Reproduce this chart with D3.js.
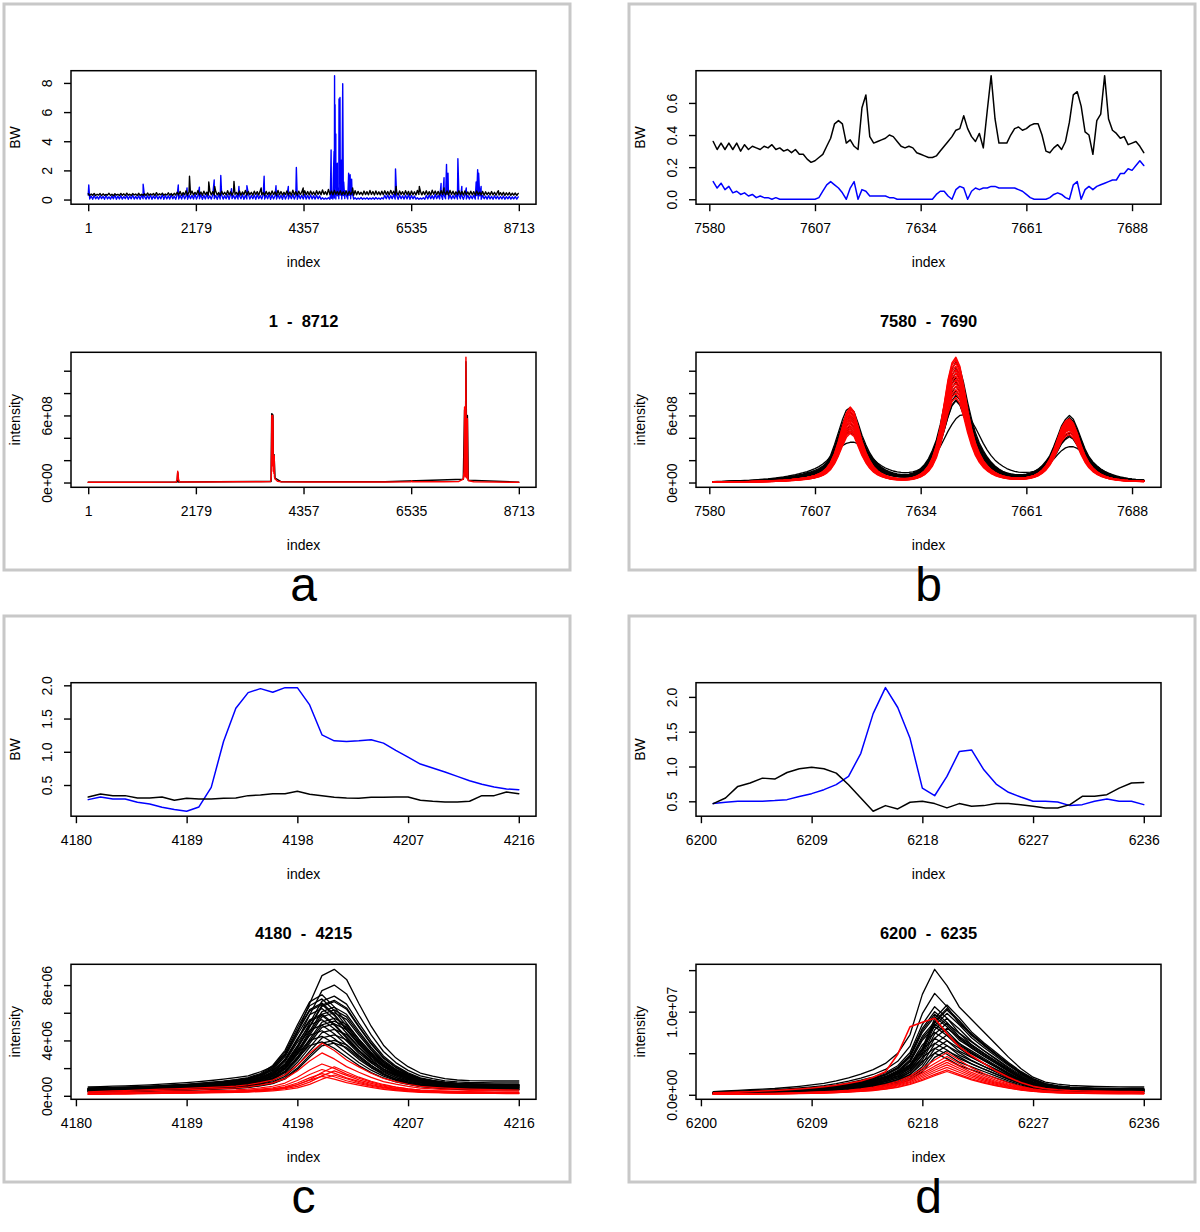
<!DOCTYPE html>
<html>
<head>
<meta charset="utf-8">
<script src="https://cdn.jsdelivr.net/npm/d3@7"></script>
<style>
  body { margin: 0; background: #fff; }
</style>
</head>
<body>
<svg id="fig" width="1200" height="1232"></svg>
<script>
// ---------- data ----------
// panel a : whole range 1 - 8712, BW sampled every 30 index units + spikes
var aRange = [1, 8712];
var aXTicks = [1, 2179, 4357, 6535, 8713];
var aBwStep = 30;
var aBlackBase = [
  0.40,0.27,0.38,0.30,0.42,0.28,0.36,0.31,0.41,0.27,0.39,0.29,0.35,0.30,0.43,0.28,0.37,0.26,0.40,0.31,
  0.36,0.28,0.42,0.29,0.39,0.27,0.44,0.30,0.37,0.28,0.41,0.31,0.38,0.27,0.43,0.29,0.36,0.30,0.40,0.28,
  0.45,0.29,0.39,0.31,0.42,0.28,0.47,0.30,0.40,0.32,0.44,0.29,0.38,0.31,0.46,0.30,0.41,0.28,0.43,0.31,
  0.50,0.31,0.56,0.29,0.48,0.33,0.60,0.30,0.53,0.34,0.58,0.31,0.49,0.35,0.62,0.32,0.52,0.29,0.57,0.34,
  0.51,0.30,0.59,0.33,0.54,0.31,0.55,0.32,0.48,0.30,0.57,0.34,0.50,0.31,0.61,0.33,0.53,0.30,0.56,0.35,
  0.49,0.32,0.58,0.30,0.52,0.34,0.63,0.31,0.55,0.33,0.50,0.30,0.57,0.35,0.54,0.31,0.60,0.32,0.48,0.30,
  0.56,0.33,0.51,0.31,0.59,0.34,0.53,0.30,0.62,0.33,0.55,0.31,0.50,0.34,0.58,0.32,0.52,0.30,0.64,0.33,
  0.54,0.31,0.57,0.35,0.51,0.30,0.60,0.33,0.55,0.32,
  0.58,0.34,0.52,0.31,0.61,0.35,0.56,0.33,0.66,0.36,0.54,0.32,0.70,0.35,0.58,0.33,0.63,0.37,0.55,0.34,
  0.60,0.32,0.53,0.35,0.59,0.31,0.57,0.34,0.52,0.30,0.61,0.33,0.56,0.35,0.50,0.31,0.58,0.34,0.54,0.32,
  0.62,0.35,0.55,0.31,0.59,0.34,0.53,0.32,0.57,0.33,
  0.60,0.34,0.55,0.32,0.63,0.36,0.57,0.33,0.52,0.31,0.59,0.35,0.54,0.32,0.61,0.34,0.56,0.30,0.58,0.33,
  0.53,0.31,0.62,0.35,0.57,0.32,0.55,0.34,0.60,0.33,0.54,0.31,0.64,0.36,0.58,0.33,0.56,0.32,0.61,0.35,
  0.55,0.33,0.59,0.31,0.62,0.34,0.57,0.32,0.53,0.35,0.60,0.33,0.56,0.31,0.58,0.34,0.52,0.32,0.57,0.33,
  0.54,0.31,0.59,0.34,0.51,0.32,0.56,0.30,0.53,0.33,0.49,0.31,0.55,0.32,0.50,0.30,0.52,0.31,0.47,0.30,
  0.50,0.29,0.46,0.31,0.48,0.29,0.44,0.30,0.45,0.28,0.42
];
var aBlueBase = [
  0.30,0.04,0.24,0.02,0.28,0.05,0.20,0.03,0.26,0.06,0.22,0.02,0.29,0.04,0.19,0.03,0.25,0.05,0.31,0.02,
  0.23,0.04,0.27,0.03,0.21,0.06,0.28,0.02,0.24,0.05,0.30,0.03,0.22,0.04,0.26,0.02,0.29,0.05,0.20,0.03,
  0.27,0.04,0.32,0.02,0.25,0.06,0.29,0.03,0.23,0.05,0.34,0.02,0.28,0.04,0.26,0.03,0.31,0.05,0.24,0.02,
  0.33,0.04,0.28,0.03,0.36,0.05,0.25,0.02,0.31,0.06,0.29,0.03,0.37,0.04,0.27,0.05,0.34,0.02,0.30,0.04,
  0.38,0.06,0.26,0.03,0.32,0.05,0.28,0.02,0.35,0.04,0.30,0.03,0.27,0.05,0.33,0.02,0.36,0.06,0.29,0.04,
  0.31,0.03,0.26,0.05,0.34,0.02,0.30,0.04,0.37,0.03,0.28,0.05,0.32,0.02,0.35,0.06,0.27,0.04,0.33,0.03,
  0.29,0.05,0.36,0.02,0.31,0.04,0.26,0.03,0.34,0.05,0.30,0.02,0.38,0.04,0.28,0.03,0.32,0.06,0.35,0.04,
  0.27,0.02,0.33,0.05,0.30,0.03,0.36,0.04,0.29,0.03,
  0.32,0.04,0.27,0.03,0.30,0.05,0.25,0.02,0.12,0.02,0.10,0.03,0.13,0.02,0.09,0.03,0.11,0.04,0.26,0.05,
  0.30,0.03,0.28,0.06,0.33,0.04,0.29,0.05,0.31,0.03,0.12,0.02,0.10,0.03,0.14,0.02,0.11,0.03,0.13,0.02,
  0.10,0.03,0.12,0.02,0.14,0.03,0.11,0.02,0.13,0.03,
  0.28,0.05,0.32,0.03,0.27,0.06,0.34,0.04,0.29,0.02,0.31,0.05,0.26,0.03,0.30,0.04,0.33,0.02,0.28,0.05,
  0.24,0.03,0.12,0.02,0.10,0.03,0.13,0.02,0.28,0.04,0.31,0.05,0.27,0.03,0.35,0.06,0.30,0.04,0.33,0.02,
  0.29,0.05,0.36,0.03,0.31,0.04,0.28,0.06,0.34,0.03,0.30,0.05,0.27,0.02,0.32,0.04,0.29,0.03,0.26,0.05,
  0.31,0.03,0.28,0.04,0.25,0.02,0.29,0.05,0.24,0.03,0.27,0.04,0.22,0.02,0.26,0.05,0.23,0.03,0.21,0.04,
  0.24,0.02,0.20,0.05,0.22,0.03,0.19,0.04,0.21,0.03,0.18
];
var aBlueSpikes = [
  [12,1.0],[1112,1.05],[1823,1.0],[2000,0.8],[2250,0.85],[2550,1.35],[2683,1.65],
  [2900,0.75],[3050,0.9],[3211,0.95],[3560,1.6],[3800,0.95],[4050,0.9],[4212,2.2],
  [4900,0.3],[4915,3.4],[4930,0.5],[4960,1.5],[4975,3.3],[4985,8.5],[4990,1.0],
  [4995,6.5],[5002,0.8],[5010,4.5],[5020,1.5],[5040,2.5],[5060,0.8],[5075,6.9],
  [5085,2.7],[5095,7.0],[5105,0.5],[5120,2.7],[5135,1.0],[5150,7.95],[5160,2.0],
  [5170,1.2],[5200,0.6],[5270,1.8],[5285,0.5],[5300,1.7],[5315,0.8],[5330,1.4],
  [5345,0.5],[6218,2.1],[7140,1.1],[7200,1.5],[7250,2.4],[7280,1.8],[7480,2.8],
  [7560,0.9],[7650,0.8],[7850,1.2],[7880,2.05],[7900,1.8],[7950,0.9]
];
var aBlackSpikes = [
  [2050,1.6],[2440,1.2],[2560,0.9],[2950,1.25],[3500,0.8],[4350,0.8],
  [5350,0.8],[6230,0.9],[6700,0.9],[7200,0.8],[8300,0.6]
];
// intensity, units of 1e8
var aIntBlack = [
  [1,0.03],[1800,0.04],[1812,0.9],[1830,0.04],[3700,0.1],[3714,6.15],[3722,6.1],
  [3730,6.1],[3738,6.0],[3745,2.5],[3760,2.5],[3780,0.4],[3900,0.08],[6000,0.06],
  [7590,0.3],[7616,6.5],[7630,0.8],[7643,10.8],[7660,0.8],[7672,6.0],[7690,0.2],[8712,0.03]
];
var aIntRed = [
  [1,0.02],[600,0.03],[1200,0.02],[1780,0.04],[1800,0.3],[1812,1.0],[1820,0.7],
  [1828,0.25],[1850,0.05],[2400,0.05],[3000,0.07],[3500,0.08],[3690,0.1],[3705,0.6],
  [3712,3.5],[3716,6.0],[3720,2.0],[3724,5.9],[3728,1.5],[3732,6.0],[3736,2.2],
  [3740,5.7],[3745,1.0],[3752,2.4],[3758,0.8],[3764,2.4],[3770,0.5],[3785,0.3],
  [3800,0.25],[3830,0.12],[3900,0.07],[4400,0.05],[5200,0.04],[6000,0.05],[6530,0.07],
  [6545,0.15],[6560,0.06],[7200,0.06],[7500,0.1],[7590,0.3],[7605,1.0],[7612,3.5],
  [7616,6.75],[7620,3.0],[7628,0.5],[7636,2.0],[7640,7.0],[7643,11.2],[7646,6.5],
  [7652,1.2],[7660,0.4],[7666,1.5],[7670,4.9],[7672,5.7],[7676,2.4],[7684,0.3],
  [7700,0.15],[7800,0.06],[8200,0.04],[8712,0.02]
];
var aYTicks = [0, 2, 4, 6, 8];
var aYLabels = ["0", "2", "4", "6", "8"];
var abIntTicks = [0, 2, 4, 6, 8, 10];          // x 1e8
var abIntLabels = ["0e+00", "", "", "6e+08", "", ""];

// panel b : 7581 - 7691
var bStart = 7581;
var bXTicks = [7580, 7607, 7634, 7661, 7688];
var bBlackBw = [
  0.36,0.31,0.35,0.31,0.35,0.31,0.35,0.30,0.34,0.31,
  0.33,0.32,0.31,0.33,0.32,0.34,0.31,0.32,0.30,0.31,
  0.29,0.31,0.28,0.28,0.25,0.23,0.24,0.26,0.28,0.33,
  0.38,0.47,0.49,0.47,0.35,0.37,0.33,0.31,0.57,0.65,
  0.39,0.35,0.36,0.37,0.38,0.40,0.39,0.36,0.33,0.32,
  0.33,0.32,0.29,0.28,0.27,0.26,0.26,0.27,0.30,0.33,
  0.36,0.39,0.43,0.44,0.52,0.44,0.39,0.36,0.41,0.32,
  0.55,0.77,0.50,0.35,0.35,0.35,0.40,0.44,0.45,0.43,
  0.44,0.46,0.47,0.47,0.40,0.30,0.29,0.32,0.34,0.31,
  0.36,0.48,0.65,0.67,0.58,0.42,0.40,0.28,0.49,0.53,
  0.77,0.50,0.43,0.41,0.38,0.39,0.34,0.35,0.36,0.33,0.29
];
var bBlueBw = [
  0.11,0.07,0.10,0.06,0.08,0.04,0.05,0.03,0.04,0.02,
  0.03,0.01,0.02,0.01,0.01,0.00,0.01,0.00,0.00,0.00,
  0.00,0.00,0.00,0.00,0.00,
  0.00,0.00,0.01,0.05,0.09,0.11,0.09,0.07,0.04,0.00,
  0.07,0.11,0.00,0.06,0.05,0.02,0.02,0.02,0.02,0.02,
  0.01,0.01,0.00,0.00,0.00,0.00,0.00,0.00,0.00,0.00,
  0.00,0.00,0.03,0.05,0.05,0.02,0.00,0.06,0.08,0.07,0.00,0.05,0.07,0.06,0.07,
  0.07,0.08,0.08,0.07,0.07,0.07,0.07,0.07,0.06,0.05,
  0.03,0.01,0.00,0.00,0.00,0.00,0.01,0.03,0.04,0.03,
  0.01,0.00,0.09,0.11,0.00,0.06,0.08,0.06,0.08,0.09,
  0.10,0.11,0.12,0.12,0.16,0.16,0.19,0.18,0.21,0.24,0.21
];
var bYTicks = [0, 0.2, 0.4, 0.6];
var bYLabels = ["0.0", "0.2", "0.4", "0.6"];
// intensity profiles (x 1e8) and the peak heights of each drawn trace
var bPeakIdx = [7616, 7643, 7672];
var bBlackRef = [
  0.05,0.06,0.07,0.08,0.09,0.10,0.11,0.12,0.13,0.14,
  0.16,0.18,0.20,0.22,0.24,0.27,0.30,0.33,0.37,0.41,
  0.46,0.51,0.57,0.64,0.72,0.80,0.90,1.02,1.20,1.50,
  2.0,2.8,3.7,4.6,5.3,5.5,5.2,4.4,3.5,2.8,
  2.2,1.75,1.4,1.15,0.95,0.82,0.72,0.66,0.62,0.61,
  0.64,0.72,0.86,1.08,1.4,1.85,2.5,3.3,4.5,6.0,
  7.6,8.9,9.5,9.0,7.8,6.3,5.0,3.9,3.1,2.5,
  2.0,1.6,1.3,1.05,0.88,0.76,0.68,0.63,0.61,0.62,
  0.66,0.74,0.86,1.04,1.3,1.65,2.1,2.8,3.6,4.4,
  4.9,5.2,4.9,4.2,3.4,2.6,2.0,1.6,1.3,1.05,
  0.85,0.7,0.58,0.48,0.40,0.34,0.29,0.25,0.22,0.20,0.18
];
var bBlackRefPeaks = [5.5, 9.5, 5.2];
var bBlackBroad = [
  0.08,0.09,0.10,0.11,0.12,0.13,0.14,0.16,0.18,0.20,
  0.22,0.24,0.27,0.30,0.33,0.37,0.41,0.46,0.51,0.57,
  0.64,0.71,0.79,0.88,0.98,1.10,1.24,1.42,1.65,1.95,
  2.3,2.65,3.0,3.3,3.5,3.6,3.6,3.45,3.2,2.85,
  2.45,2.05,1.75,1.5,1.3,1.15,1.03,0.95,0.9,0.88,
  0.9,0.96,1.06,1.2,1.4,1.7,2.1,2.6,3.2,3.9,
  4.6,5.2,5.7,6.0,6.06,5.9,5.5,4.9,4.2,3.5,
  2.9,2.4,2.0,1.7,1.45,1.25,1.1,1.0,0.93,0.9,
  0.9,0.93,1.0,1.1,1.25,1.45,1.75,2.1,2.5,2.85,
  3.1,3.2,3.2,3.05,2.8,2.45,2.1,1.75,1.45,1.2,
  1.0,0.84,0.7,0.6,0.51,0.44,0.38,0.33,0.29,0.26,0.23
];
var bRedRef = [
  0.03,0.035,0.04,0.045,0.05,0.055,0.06,0.065,0.07,0.08,
  0.09,0.10,0.11,0.12,0.13,0.15,0.17,0.19,0.21,0.24,
  0.27,0.31,0.35,0.40,0.46,0.54,0.64,0.78,0.98,1.3,
  1.8,2.6,3.7,5.0,6.2,6.75,6.3,5.0,3.7,2.7,
  1.95,1.4,1.05,0.8,0.63,0.5,0.42,0.37,0.35,0.35,
  0.38,0.45,0.57,0.76,1.05,1.5,2.2,3.3,4.9,7.0,
  9.2,10.7,11.2,10.4,8.6,6.5,4.8,3.5,2.6,1.95,
  1.5,1.15,0.9,0.72,0.59,0.5,0.44,0.41,0.40,0.41,
  0.45,0.52,0.64,0.82,1.1,1.5,2.1,2.9,3.9,4.9,
  5.5,5.7,5.3,4.4,3.3,2.4,1.75,1.3,0.98,0.75,
  0.58,0.46,0.37,0.30,0.25,0.21,0.18,0.16,0.14,0.13,0.12
];
var bRedRefPeaks = [6.75, 11.2, 5.7];
var bBlackHeights = [
  [6.7,10.8,6.0],[6.3,10.2,5.8],[6.0,9.8,5.6],[5.8,9.4,5.4],[5.6,9.0,5.2],
  [5.3,8.6,5.0],[5.0,8.2,4.8],[4.8,7.8,4.5],[4.6,7.4,4.2],[4.5,7.3,4.1]
];
var bRedHeights = [
  [6.75,11.2,5.7],[6.6,11.0,5.6],[6.4,10.7,5.5],[6.2,10.4,5.4],[6.0,10.1,5.3],
  [5.8,9.8,5.2],[5.6,9.5,5.1],[5.4,9.2,5.0],[5.2,8.9,4.9],[5.0,8.6,4.8],
  [4.8,8.3,4.7],[4.6,8.0,4.5],[4.4,7.6,4.3]
];

// panel c : 4181 - 4216
var cStart = 4181;
var cXTicks = [4180, 4189, 4198, 4207, 4216];
var cBlackBw = [
  0.32,0.365,0.34,0.34,0.305,0.305,0.32,0.27,0.30,0.29,
  0.29,0.30,0.305,0.34,0.35,0.37,0.37,0.405,0.36,0.34,
  0.315,0.305,0.30,0.315,0.315,0.32,0.32,0.27,0.255,0.245,
  0.245,0.255,0.34,0.34,0.395,0.37
];
var cBlueBw = [
  0.28,0.32,0.29,0.29,0.24,0.215,0.165,0.13,
  0.105,0.17,0.465,1.155,1.655,1.89,1.95,1.895,1.965,1.965,
  1.705,1.255,1.165,1.155,1.165,1.18,1.13,1.02,0.92,0.815,
  0.755,0.695,0.63,0.565,0.51,0.47,0.44,0.43
];
var cYTicks = [0.5, 1.0, 1.5, 2.0];
var cYLabels = ["0.5", "1.0", "1.5", "2.0"];
// normalised intensity profiles and peak heights (x 1e6)
var cBlackShapeA = [
  0.071,0.073,0.076,0.079,0.083,0.087,0.092,0.098,0.104,0.112,
  0.121,0.131,0.143,0.157,0.19,0.23,0.32,0.50,0.73,0.95,
  1.0,0.92,0.73,0.55,0.40,0.30,0.23,0.18,0.155,0.135,
  0.125,0.12,0.118,0.117,0.117,0.117
];
var cBlackShapeB = [
  0.075,0.078,0.081,0.085,0.089,0.094,0.1,0.107,0.114,0.123,
  0.133,0.145,0.16,0.18,0.22,0.30,0.45,0.70,0.93,1.0,
  0.88,0.72,0.56,0.43,0.33,0.26,0.21,0.17,0.15,0.135,
  0.125,0.12,0.115,0.112,0.11,0.11
];
var cRedShapeA = [
  0.077,0.085,0.093,0.10,0.11,0.118,0.126,0.134,0.14,0.15,
  0.16,0.17,0.185,0.21,0.25,0.30,0.40,0.58,0.81,1.0,
  0.86,0.68,0.55,0.43,0.33,0.27,0.22,0.18,0.16,0.145,
  0.135,0.128,0.122,0.118,0.114,0.11
];
var cRedShapeB = [
  0.075,0.08,0.087,0.094,0.10,0.108,0.115,0.122,0.13,0.138,
  0.146,0.155,0.165,0.18,0.205,0.24,0.29,0.38,0.55,0.8,
  1.0,0.82,0.64,0.5,0.39,0.3,0.24,0.2,0.17,0.15,
  0.138,0.13,0.124,0.12,0.116,0.113
];
var cBlackHeightsA = [9.14, 8.0, 7.2, 6.8, 6.4, 6.0, 5.6, 5.2, 4.8, 4.4, 4.0, 3.8, 6.9, 6.2, 5.4];
var cBlackHeightsB = [7.3, 7.0, 6.6, 6.3, 5.9, 5.5, 5.1, 4.7, 4.3, 3.9, 6.7, 5.8];
var cRedHeightsA = [3.8, 3.1, 2.3, 1.9, 1.6, 1.4];
var cRedHeightsB = [2.1, 1.8, 1.5];
var cIntTicks = [0, 2, 4, 6, 8];            // x 1e6
var cIntLabels = ["0e+00", "", "4e+06", "", "8e+06"];

// panel d : 6201 - 6236
var dStart = 6201;
var dXTicks = [6200, 6209, 6218, 6227, 6236];
var dBlackBw = [
  0.467,0.548,0.714,0.762,0.833,0.819,0.914,0.967,0.99,0.967,
  0.905,0.738,0.548,0.357,0.438,0.39,0.486,0.50,0.467,0.405,
  0.467,0.429,0.438,0.467,0.467,0.452,0.429,0.405,0.405,0.452,
  0.571,0.571,0.595,0.69,0.762,0.771
];
var dBlueBw = [
  0.467,0.486,0.50,0.50,0.50,0.51,0.524,0.57,0.61,0.667,
  0.74,0.857,1.19,1.76,2.133,1.848,1.405,0.69,0.58,0.857,
  1.214,1.238,0.952,0.748,0.629,0.562,0.50,0.50,0.49,0.438,
  0.452,0.50,0.533,0.50,0.50,0.452
];
var dYTicks = [0.5, 1.0, 1.5, 2.0];
var dYLabels = ["0.5", "1.0", "1.5", "2.0"];
var dBlackShapeA = [
  0.025,0.03,0.035,0.04,0.045,0.05,0.058,0.067,0.078,0.09,
  0.11,0.135,0.165,0.20,0.25,0.33,0.48,0.80,1.0,0.87,
  0.70,0.60,0.50,0.40,0.30,0.21,0.14,0.10,0.085,0.075,
  0.07,0.066,0.064,0.063,0.062,0.062
];
var dBlackShapeB = [
  0.025,0.028,0.032,0.036,0.04,0.045,0.051,0.058,0.067,0.078,
  0.092,0.11,0.135,0.165,0.2,0.25,0.34,0.52,0.85,1.0,
  0.86,0.70,0.58,0.47,0.36,0.26,0.18,0.125,0.1,0.085,
  0.077,0.072,0.069,0.067,0.066,0.066
];
var dRedShapeA = [
  0.026,0.03,0.034,0.04,0.049,0.056,0.065,0.076,0.088,0.105,
  0.125,0.15,0.18,0.23,0.3,0.53,0.89,0.95,1.0,0.8,
  0.63,0.51,0.41,0.31,0.23,0.16,0.11,0.08,0.065,0.055,
  0.05,0.047,0.045,0.043,0.041,0.04
];
var dRedShapeB = [
  0.02,0.022,0.025,0.028,0.032,0.036,0.042,0.05,0.06,0.072,
  0.088,0.11,0.14,0.18,0.24,0.32,0.44,0.62,0.82,1.0,
  0.82,0.64,0.5,0.38,0.28,0.2,0.14,0.1,0.08,0.066,
  0.058,0.052,0.048,0.045,0.043,0.042
];
var dBlackHeightsA = [15.1, 12.2, 10.6, 10.0, 9.4, 8.8, 8.2, 7.5, 6.8, 6.2, 5.6, 5.0, 9.7, 8.5];
var dBlackHeightsB = [10.8, 10.4, 9.8, 9.2, 8.6, 8.0, 7.2, 6.5, 5.9, 5.3, 10.2];
var dRedHeightsA = [9.2];
var dRedHeightsB = [5.1, 4.6, 4.2, 3.9, 3.6, 3.3, 3.0, 2.8];
var dIntTicks = [0, 5, 10, 15];             // x 1e6
var dIntLabels = ["0.0e+00", "", "1.0e+07", ""];

// ---------- helpers ----------
var FONT = "'Liberation Sans', Arial, Helvetica, sans-serif";
var BLUE = "#0000ff", RED = "#ff0000", BLACK = "#000000";
var PANEL = 566;
var BOX_L = 67, BOX_R = 532;
var ROW_TOP = {top: 66.7, bottom: 200.2};
var ROW_BOT = {top: 348.3, bottom: 483.3};

function rPad(ext) {   // R style 4% extension
  var r = ext[1] - ext[0];
  return [ext[0] - 0.04 * r, ext[1] + 0.04 * r];
}
function seq(start, vals) {
  return vals.map(function(v, i) { return [start + i, v]; });
}
function merged(start, step, base, spikes) {
  var pts = base.map(function(v, i) { return [start + i * step, v]; });
  spikes.forEach(function(s) { pts.push(s); });
  pts.sort(function(a, b) { return a[0] - b[0]; });
  return pts;
}
function family(start, shape, heights) {
  return heights.map(function(h) {
    return shape.map(function(v, i) { return [start + i, v * h]; });
  });
}
function family3(start, ref, refPeaks, heights, centers) {
  return heights.map(function(h) {
    var sc = d3.scaleLinear().domain(centers)
      .range(h.map(function(v, k) { return v / refPeaks[k]; })).clamp(true);
    return ref.map(function(v, i) { return [start + i, v * sc(start + i)]; });
  });
}

var svg = d3.select("#fig");
var clipCount = 0;

function drawPlot(g, row, o) {
  var x = d3.scaleLinear().domain(rPad(o.xExt)).range([BOX_L, BOX_R]);
  var allY = [];
  o.series.forEach(function(s) { s.pts.forEach(function(p) { allY.push(p[1]); }); });
  var y = d3.scaleLinear().domain(rPad(d3.extent(allY))).range([row.bottom, row.top]);

  var cid = "clip" + (clipCount++);
  g.append("clipPath").attr("id", cid).append("rect")
    .attr("x", BOX_L).attr("y", row.top)
    .attr("width", BOX_R - BOX_L).attr("height", row.bottom - row.top);

  var line = d3.line().x(function(d) { return x(d[0]); }).y(function(d) { return y(d[1]); });
  var lines = g.append("g").attr("clip-path", "url(#" + cid + ")");
  o.series.forEach(function(s) {
    lines.append("path")
      .attr("d", line(s.pts))
      .attr("fill", "none")
      .attr("stroke", s.c)
      .attr("stroke-width", s.w || 1.3)
      .attr("stroke-linejoin", "round")
      .attr("stroke-linecap", "round");
  });

  g.append("rect")
    .attr("x", BOX_L).attr("y", row.top)
    .attr("width", BOX_R - BOX_L).attr("height", row.bottom - row.top)
    .attr("fill", "none").attr("stroke", BLACK).attr("stroke-width", 1.5);

  var xa = g.append("g").attr("transform", "translate(0," + row.bottom + ")")
    .call(d3.axisBottom(x).tickValues(o.xTicks).tickFormat(d3.format("d"))
      .tickSizeInner(7).tickSizeOuter(0).tickPadding(12));
  xa.select(".domain").remove();
  xa.attr("font-family", FONT).attr("font-size", 14);
  xa.selectAll("line").attr("stroke-width", 1.4);

  var ya = g.append("g").attr("transform", "translate(" + BOX_L + ",0)")
    .call(d3.axisLeft(y).tickValues(o.yTicks)
      .tickFormat(function(d, i) { return o.yLabels[i]; })
      .tickSizeInner(7).tickSizeOuter(0));
  ya.select(".domain").remove();
  ya.attr("font-family", FONT).attr("font-size", 14);
  ya.selectAll("line").attr("stroke-width", 1.4);
  ya.selectAll(".tick text")
    .attr("x", null).attr("dy", null)
    .attr("transform", "translate(-24.3,0) rotate(-90)")
    .attr("text-anchor", "middle")
    .attr("dominant-baseline", "central");

  g.append("text")
    .attr("x", (BOX_L + BOX_R) / 2).attr("y", row.bottom + 62.4)
    .attr("text-anchor", "middle")
    .attr("font-family", FONT).attr("font-size", 14)
    .text("index");

  g.append("text")
    .attr("transform", "translate(" + (BOX_L - 56) + "," + ((row.top + row.bottom) / 2) + ") rotate(-90)")
    .attr("text-anchor", "middle")
    .attr("dominant-baseline", "central")
    .attr("font-family", FONT).attr("font-size", 14)
    .text(o.yTitle);

  if (o.title) {
    g.append("text")
      .attr("x", (BOX_L + BOX_R) / 2).attr("y", row.top - 25)
      .attr("text-anchor", "middle")
      .attr("font-family", FONT).attr("font-size", 16.5).attr("font-weight", "bold")
      .style("white-space", "pre")
      .text(o.title);
  }
}

function asSeries(list, color, w) {
  return list.map(function(pts) { return {pts: pts, c: color, w: w}; });
}

// ---------- panels ----------
var panels = [
  {
    label: "a", ox: 4, oy: 4, xExt: aRange, xTicks: aXTicks, title: "1  -  8712",
    top: {yTicks: aYTicks, yLabels: aYLabels, series: [
      {pts: merged(1, aBwStep, aBlueBase, aBlueSpikes), c: BLUE, w: 1.4},
      {pts: merged(1, aBwStep, aBlackBase, aBlackSpikes), c: BLACK, w: 1.4}
    ]},
    bot: {yTicks: abIntTicks, yLabels: abIntLabels, series: [
      {pts: aIntBlack, c: BLACK, w: 1.5},
      {pts: aIntRed, c: RED, w: 1.5}
    ]}
  },
  {
    label: "b", ox: 629, oy: 4, xExt: [bStart, bStart + bBlackBw.length - 1], xTicks: bXTicks,
    title: "7580  -  7690",
    top: {yTicks: bYTicks, yLabels: bYLabels, series: [
      {pts: seq(bStart, bBlueBw), c: BLUE, w: 1.5},
      {pts: seq(bStart, bBlackBw), c: BLACK, w: 1.5}
    ]},
    bot: {yTicks: abIntTicks, yLabels: abIntLabels, series: []
      .concat(asSeries(family3(bStart, bBlackRef, bBlackRefPeaks, bBlackHeights, bPeakIdx), BLACK, 1.3))
      .concat([{pts: seq(bStart, bBlackBroad), c: BLACK, w: 1.3}])
      .concat(asSeries(family3(bStart, bRedRef, bRedRefPeaks, bRedHeights, bPeakIdx), RED, 1.5))
    }
  },
  {
    label: "c", ox: 4, oy: 616, xExt: [cStart, cStart + cBlackBw.length - 1], xTicks: cXTicks,
    title: "4180  -  4215",
    top: {yTicks: cYTicks, yLabels: cYLabels, series: [
      {pts: seq(cStart, cBlueBw), c: BLUE, w: 1.5},
      {pts: seq(cStart, cBlackBw), c: BLACK, w: 1.5}
    ]},
    bot: {yTicks: cIntTicks, yLabels: cIntLabels, series: []
      .concat(asSeries(family(cStart, cBlackShapeA, cBlackHeightsA), BLACK, 1.3))
      .concat(asSeries(family(cStart, cBlackShapeB, cBlackHeightsB), BLACK, 1.3))
      .concat(asSeries(family(cStart, cRedShapeA, cRedHeightsA), RED, 1.2))
      .concat(asSeries(family(cStart, cRedShapeB, cRedHeightsB), RED, 1.2))
    }
  },
  {
    label: "d", ox: 629, oy: 616, xExt: [dStart, dStart + dBlackBw.length - 1], xTicks: dXTicks,
    title: "6200  -  6235",
    top: {yTicks: dYTicks, yLabels: dYLabels, series: [
      {pts: seq(dStart, dBlueBw), c: BLUE, w: 1.5},
      {pts: seq(dStart, dBlackBw), c: BLACK, w: 1.5}
    ]},
    bot: {yTicks: dIntTicks, yLabels: dIntLabels, series: []
      .concat(asSeries(family(dStart, dBlackShapeA, dBlackHeightsA), BLACK, 1.3))
      .concat(asSeries(family(dStart, dBlackShapeB, dBlackHeightsB), BLACK, 1.3))
      .concat(asSeries(family(dStart, dRedShapeA, dRedHeightsA), RED, 1.6))
      .concat(asSeries(family(dStart, dRedShapeB, dRedHeightsB), RED, 1.2))
    }
  }
];

panels.forEach(function(p) {
  var g = svg.append("g").attr("transform", "translate(" + p.ox + "," + p.oy + ")");
  g.append("rect")
    .attr("x", 0).attr("y", 0).attr("width", PANEL).attr("height", PANEL)
    .attr("fill", "none").attr("stroke", "#c8c8c8").attr("stroke-width", 3);

  drawPlot(g.append("g"), ROW_TOP, {
    xExt: p.xExt, xTicks: p.xTicks, yTicks: p.top.yTicks, yLabels: p.top.yLabels,
    yTitle: "BW", title: null, series: p.top.series
  });
  drawPlot(g.append("g"), ROW_BOT, {
    xExt: p.xExt, xTicks: p.xTicks, yTicks: p.bot.yTicks, yLabels: p.bot.yLabels,
    yTitle: "intensity", title: p.title, series: p.bot.series
  });

  g.append("text")
    .attr("x", (BOX_L + BOX_R) / 2).attr("y", 597)
    .attr("text-anchor", "middle")
    .attr("font-family", FONT).attr("font-size", 48)
    .text(p.label);
});
</script>
</body>
</html>
